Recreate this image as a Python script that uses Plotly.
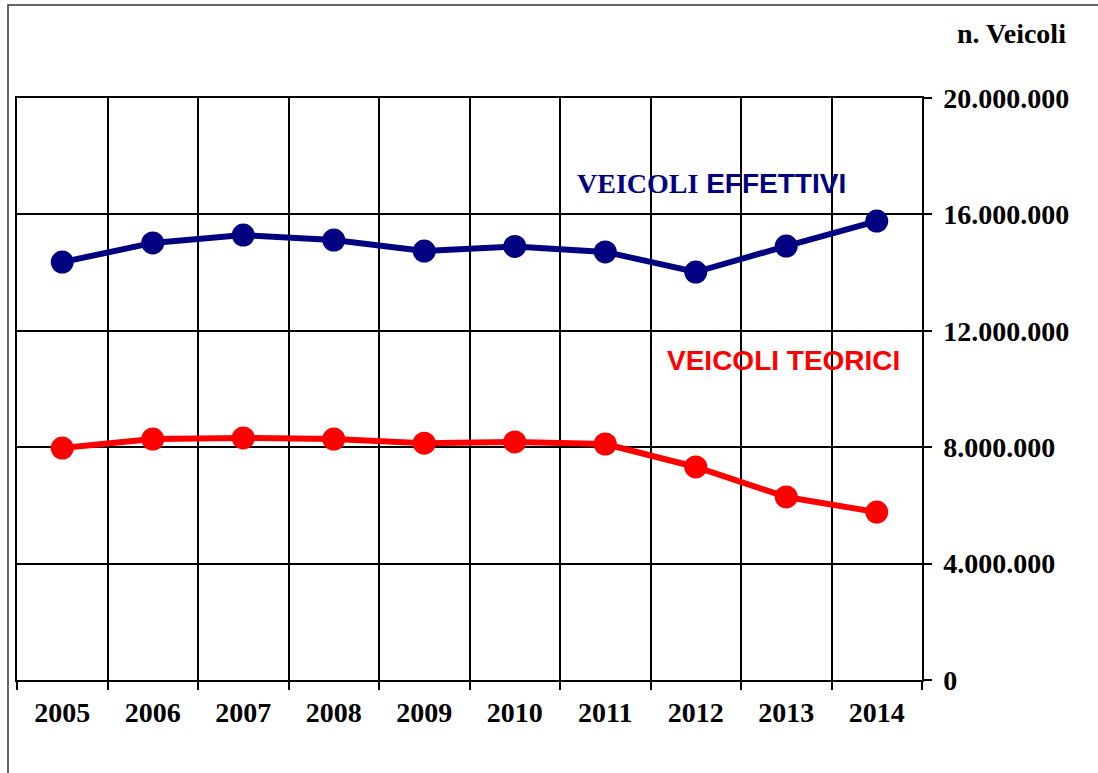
import plotly.graph_objects as go

# Data
anni = ['2005', '2006', '2007', '2008', '2009', '2010', '2011', '2012', '2013', '2014']
veicoli_effettivi = [14.36e6, 15.02e6, 15.29e6, 15.12e6, 14.74e6, 14.90e6, 14.71e6, 14.02e6, 14.91e6, 15.77e6]
veicoli_teorici = [7.97e6, 8.28e6, 8.32e6, 8.28e6, 8.14e6, 8.18e6, 8.11e6, 7.32e6, 6.29e6, 5.77e6]
y_ticks = [0, 4e6, 8e6, 12e6, 16e6, 20e6]

W, H = 1098, 773
L, R, T, B = 17, 922, 98, 680   # plot area in pixels

def px(x):
    return (x - L) / (R - L)

def py(y):
    return (B - y) / (B - T)

serif = 'Liberation Serif'
sans = 'Liberation Sans'

fig = go.Figure()

fig.add_trace(go.Scatter(
    x=anni, y=veicoli_effettivi, mode='lines+markers', name='Veicoli effettivi',
    line=dict(color='#000080', width=6),
    marker=dict(color='#000080', size=23),
    cliponaxis=False
))

fig.add_trace(go.Scatter(
    x=anni, y=veicoli_teorici, mode='lines+markers', name='Veicoli teorici',
    line=dict(color='#FF0000', width=6),
    marker=dict(color='#FF0000', size=23),
    cliponaxis=False
))

fig.update_layout(
    width=W, height=H,
    margin=dict(l=L, r=W - R, t=T, b=H - B, autoexpand=False),
    paper_bgcolor='white', plot_bgcolor='white',
    showlegend=False,
    separators=',.',
    font=dict(family=serif, color='black'),
)

fig.update_xaxes(
    type='category', range=[-0.5, 9.5],
    tickson='boundaries', ticks='outside', ticklen=8, tickwidth=1.5, tickcolor='black',
    showgrid=True, gridcolor='black', gridwidth=1.5,
    showline=True, linecolor='black', linewidth=1.5, mirror=True,
    tickfont=dict(family=serif, size=28, color='black', weight='bold'),
    ticklabelstandoff=7,
    automargin=False
)

fig.update_yaxes(
    side='right', range=[0, 20e6], tickvals=y_ticks, tickformat=',d',
    ticks='outside', ticklen=8, tickwidth=1.5, tickcolor='black',
    showgrid=True, gridcolor='black', gridwidth=1.5,
    showline=True, linecolor='black', linewidth=1.5, mirror=True,
    zeroline=False,
    tickfont=dict(family=serif, size=28, color='black', weight='bold'),
    ticklabelstandoff=6,
    automargin=False
)

# outer frame
fig.add_shape(type='rect', xref='paper', yref='paper',
              x0=px(8), y0=py(5), x1=px(1110), y1=py(790),
              line=dict(color='#333333', width=1.5), fillcolor='rgba(0,0,0,0)', layer='below')

fig.add_annotation(
    xref='paper', yref='paper', x=px(1068), y=py(34), xanchor='right', yanchor='middle',
    text='<b>n. Veicoli</b>', showarrow=False,
    font=dict(family=serif, size=28, color='black')
)

fig.add_annotation(
    xref='paper', yref='paper', x=px(575), y=py(183), xanchor='left', yanchor='middle',
    text=('<b>VEICOLI</b><b><span style="font-family:Liberation Sans"> EFFETTIVI</span></b>'),
    showarrow=False,
    font=dict(family=serif, size=28, color='#000080')
)

fig.add_annotation(
    xref='paper', yref='paper', x=px(665), y=py(360), xanchor='left', yanchor='middle',
    text='<b>VEICOLI TEORICI</b>', showarrow=False,
    font=dict(family=sans, size=28, color='#FF0000')
)

fig.write_html('out.html', config={'displayModeBar': False},
               post_script="document.body.style.margin='0';")
